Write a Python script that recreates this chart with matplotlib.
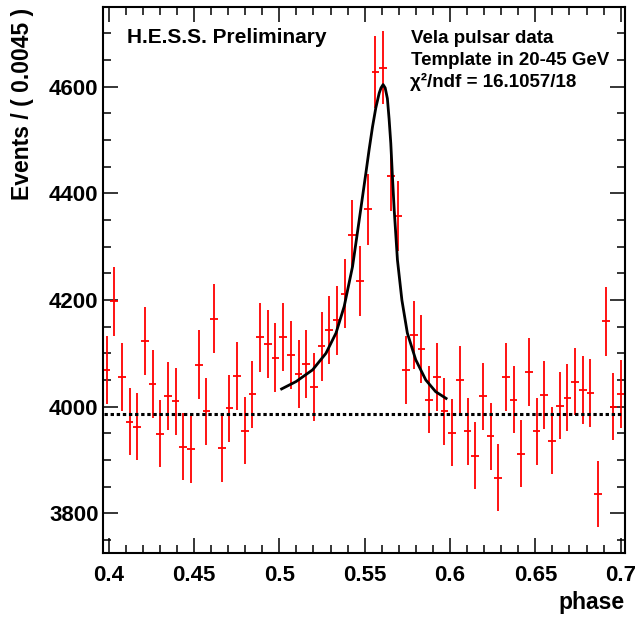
import numpy as np
import matplotlib
matplotlib.use("Agg")
import matplotlib.pyplot as plt
from matplotlib.ticker import MultipleLocator

plt.rcParams['font.family'] = ['Liberation Sans', 'DejaVu Sans']
plt.rcParams['font.weight'] = 'bold'

# histogram: 68 bins of 0.0045 in phase
phase_lo = 0.3965
bin_width = 0.0045
counts = [4069, 4198, 4055, 3972, 3962, 4123, 4042, 3949, 4020, 4010,
          3925, 3920, 4079, 3991, 4165, 3922, 3997, 4057, 3955, 4023,
          4130, 4118, 4092, 4131, 4097, 4062, 4080, 4037, 4113, 4144,
          4162, 4212, 4322, 4236, 4370, 4628, 4636, 4433, 4357, 4068,
          4134, 4108, 4013, 4056, 3991, 3951, 4050, 3954, 3908, 4019,
          3944, 3867, 4055, 4013, 3912, 4065, 3954, 4022, 3936, 4002,
          4017, 4047, 4031, 4025, 3836, 4160, 4000, 4024]

# fitted template curve
fit_phase = [0.5006, 0.5098, 0.5195, 0.5273, 0.5332, 0.5380, 0.5429, 0.5468,
             0.5507, 0.5526, 0.5546, 0.5565, 0.5585, 0.5596, 0.5608, 0.5620,
             0.5633, 0.5643, 0.5653, 0.5663, 0.5673, 0.5692,
             0.5718, 0.5750, 0.5799, 0.5858, 0.5916, 0.5984]
fit_events = [4032, 4047, 4069, 4100, 4138, 4188, 4263, 4350,
              4438, 4482, 4525, 4560, 4588, 4598, 4604, 4598,
              4578, 4540, 4494, 4429, 4369, 4275,
              4200, 4138, 4088, 4050, 4028, 4014]

# flat background level
bkg_level = 3987
bkg_range = [0.3975, 0.700]

counts = np.array(counts, dtype=float)
centers = phase_lo + bin_width * (np.arange(len(counts)) + 0.5)
errors = np.sqrt(counts)  # poisson errors

fig = plt.figure(figsize=(6.35, 6.19), dpi=100)
ax = fig.add_axes([0.1617, 0.1071, 0.8225, 0.8811])

ax.errorbar(centers, counts, yerr=errors, xerr=bin_width / 2, fmt='none',
            ecolor='#ff0000', elinewidth=1.3, capsize=0)
ax.plot(fit_phase, fit_events, color='black', lw=2.0, solid_capstyle='butt',
        solid_joinstyle='round')
ax.plot(bkg_range, [bkg_level, bkg_level], color='black', lw=2.2,
        dashes=(1.1, 0.9))

ax.set_xlim(phase_lo, phase_lo + bin_width * len(counts))
ax.set_ylim(3726, 4749)

ax.xaxis.set_major_locator(MultipleLocator(0.05))
ax.xaxis.set_minor_locator(MultipleLocator(0.01))
ax.yaxis.set_major_locator(MultipleLocator(200))
ax.yaxis.set_minor_locator(MultipleLocator(50))
ax.set_xticks(np.arange(0.4, 0.701, 0.05))
ax.set_xticklabels(['0.4', '0.45', '0.5', '0.55', '0.6', '0.65', '0.7'])

ax.tick_params(which='both', direction='in', top=True, right=True,
               labelsize=16, width=1.1)
ax.tick_params(which='major', length=11)
ax.tick_params(which='minor', length=5.5)
ax.tick_params(axis='x', pad=9)
ax.tick_params(axis='y', pad=3)
for lab in ax.get_xticklabels() + ax.get_yticklabels():
    lab.set_fontweight('bold')
for sp in ax.spines.values():
    sp.set_linewidth(1.5)

fig.text(23 / 635, 0.988, 'Events / ( 0.0045 )', rotation=90, ha='center',
         va='top', fontsize=16.5, fontweight='bold')
fig.text(625 / 635, 1 - 603 / 619, 'phase', ha='right', va='center',
         fontsize=16.5, fontweight='bold')

fig.text(127 / 635, 1 - 43 / 619, 'H.E.S.S. Preliminary', fontsize=15,
         fontweight='bold', va='baseline')
fig.text(411 / 635, 1 - 43 / 619, 'Vela pulsar data', fontsize=13.5,
         fontweight='bold', va='baseline')
fig.text(411 / 635, 1 - 65 / 619, 'Template in 20-45 GeV', fontsize=13.5,
         fontweight='bold', va='baseline')
fig.text(410 / 635, 1 - 87 / 619, 'χ²/ndf = 16.1057/18', fontsize=13.5,
         fontweight='bold', va='baseline')

fig.savefig('out.png', dpi=100)
